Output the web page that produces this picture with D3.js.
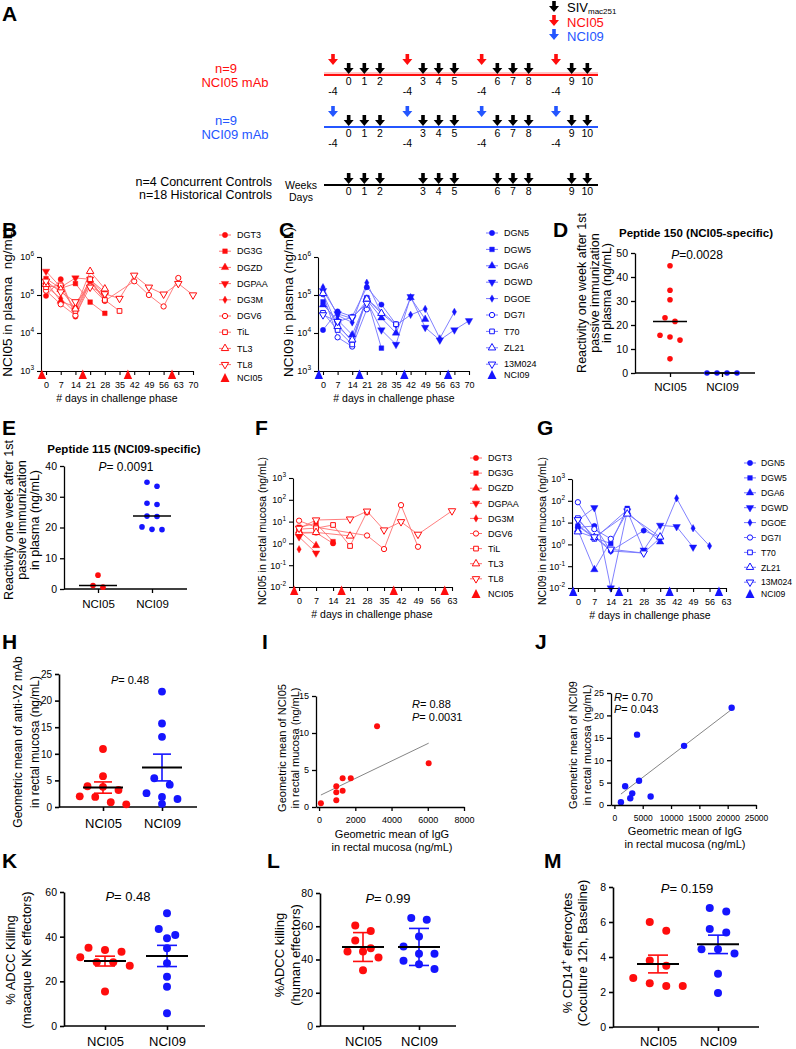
<!DOCTYPE html>
<html><head><meta charset="utf-8">
<script src="https://cdn.jsdelivr.net/npm/d3@7/dist/d3.min.js"></script>
<style>
html,body{margin:0;padding:0;background:#fff;}
svg{display:block;}
text{font-family:"Liberation Sans",Arial,Helvetica,sans-serif;}
</style></head><body>
<svg id="fig" width="796" height="1049" xmlns="http://www.w3.org/2000/svg"></svg>
<script>
// ======================= DATA =======================
// Panel A schedule
const weekNumbers = [0,1,2,3,4,5,6,7,8,9,10];
const doseGroups = [0,1,2,3];
const doseDayLabel = "-4";

// Panels B, C, F, G
const challengeDays70 = [0,7,14,21,28,35,42,49,56,63,70];
const challengeDays63 = [0,7,14,21,28,35,42,49,56,63];
const mAbInfusionDays = [-2,17.5,39,60];
const animalsNCI05 = ["DGT3","DG3G","DGZD","DGPAA","DG3M","DGV6","TiL","TL3","TL8"];
const animalsNCI09 = ["DGN5","DGW5","DGA6","DGWD","DGOE","DG7I","T70","ZL21","13M024"];
const symbolTypes = ["circle","square","triangle","triangleDown","diamond","circleOpen","squareOpen","triangleOpen","triangleDownOpen"];
const logTicksPlasma = [1e3,1e4,1e5,1e6];
const logTicksMucosa = [1e-2,1e-1,1,10,100,1000];

const plasmaNCI05 = [
  [9.5e4,2.6e5,2.7e4,2.3e5,7.2e4,null,null,null,null,null,null],
  [2.7e5,1.5e5,2.0e5,6.5e4,3.3e4,null,null,null,null,null,null],
  [2.2e5,6.9e4,4.8e4,2.5e5,1.2e5,null,null,null,null,null,null],
  [4.2e5,1.6e5,2.8e5,2.6e5,1.0e5,null,null,null,null,null,null],
  [1.7e5,8.1e4,3.4e4,2.4e5,7.5e4,null,null,null,null,null,null],
  [1.3e5,5.7e4,2.9e4,1.7e5,7.0e4,null,2.3e5,1.0e5,5.0e4,2.8e5,null],
  [1.6e5,1.8e5,3.8e4,2.6e5,7.4e4,3.8e4,null,null,null,null,null],
  [1.9e5,1.4e5,4.3e4,4.2e5,1.45e5,null,null,null,null,null,null],
  [2.3e5,1.2e5,6.6e4,1.6e5,1.07e5,8.1e4,3.3e5,1.6e5,1.05e5,2.0e5,1.0e5]
];
const plasmaNCI09 = [
  [1.2e4,3.7e4,2.7e4,1.6e5,5.6e4,1.7e4,null,null,null,null,null],
  [6.6e4,1.7e4,5.9e3,8.5e4,4.0e3,null,null,null,null,null,null],
  [5.5e4,2.2e4,9.0e3,7.5e4,2.5e4,1.0e4,8.5e4,2.3e4,null,null,null],
  [1.3e5,3.2e4,2.4e4,7.0e4,1.2e4,5.0e3,9.0e4,1.4e4,6.5e3,1.2e4,2.1e4],
  [1.6e5,2.9e4,1.9e4,2.1e5,3.3e4,1.6e4,3.0e4,4.3e4,7.2e3,3.6e4,null],
  [1.05e5,7.7e3,4.4e3,4.2e4,null,null,null,null,null,null,null],
  [3.4e4,1.2e4,5.0e3,8.0e4,null,1.7e4,null,null,null,null,null],
  [1.1e5,1.5e4,6.6e3,7.8e4,3.3e4,null,null,null,null,null,null],
  [3.0e4,2.0e4,2.6e4,6.0e4,null,null,null,null,null,null,null]
];
const mucosaNCI05 = [
  [2.9,3.1,1.0,null,null,null,null,null,null,null],
  [5.5,8.3,1.2,null,null,null,null,null,null,null],
  [3.8,0.8,null,null,null,null,null,null,null,null],
  [2.0,0.36,null,null,null,null,null,null,null,null],
  [0.54,null,null,null,null,null,null,null,null,null],
  [11,5.5,null,null,2.3,0.55,57,0.7,null,null],
  [4.5,5.0,7.0,0.76,28,null,null,null,null,null],
  [3.2,3.2,null,2.2,null,null,null,null,null,null],
  [4.9,11.8,null,13,30,4.1,9.8,2.6,null,31]
];
const mucosaNCI09 = [
  [6.0,7.0,0.5,null,4.3,2.1,null,null,null,null],
  [6.9,2.0,1.1,45,null,null,null,null,null,null],
  [4.6,0.07,null,30,null,1.3,null,null,null,null],
  [13,48,0.01,34,0.55,7.5,6.5,0.75,null,null],
  [7.5,2.2,0.5,null,0.4,2.0,130,5.5,0.85,null],
  [86,5.0,1.8,null,null,null,null,null,null,null],
  [16,1.8,null,38,null,null,null,null,null,null],
  [3.8,2.1,null,25,null,2.2,null,null,null,null],
  [13.5,2.2,0.6,null,0.4,null,null,null,null,null]
];

// Dot plots
const groupNames = ["NCI05","NCI09"];
const pep150NCI05 = [44.7,34.5,30.5,23,21.5,15.7,15,13.7,5.9];
const pep150NCI09 = [0,0,0,0];
const pep115NCI05 = [4.5,1.1,0.6];
const pep115NCI09 = [34.7,33.4,27.9,27.5,23.7,23.6,20.2,19.4,19.3];
const mucosaGMNCI05 = [10.9,5.8,3.9,3.8,3.2,2.0,1.9,0.9,0.5];
const mucosaGMNCI09 = [21.7,15.7,13.2,5.4,4.2,2.6,1.9,1.5,0.6];
const igGNCI05 = [3200,6050,1300,1750,950,1300,950,950,100];
const gmNCI05 = [10.9,5.9,3.9,3.9,2.8,2.2,2.0,0.9,0.5];
const igGNCI09 = [20700,4000,12300,4350,1900,3150,6400,2800,1150];
const gmNCI09 = [21.7,15.7,13.2,5.4,4.2,2.6,1.9,1.5,0.6];
const adccNKNCI05 = [35,34,33.3,30.8,28.5,28.5,27,15.4];
const adccNKNCI09 = [50.5,43.4,40.8,39.3,34.8,28.1,22.1,17.6,5.7];
const adccHuNCI05 = [60.4,57.2,51.4,46.8,44.8,44.8,41.2,33.5];
const adccHuNCI09 = [64.9,63.9,53.8,47.8,43.4,43.4,39.3,37.2,34.3];
const cd14NCI05 = [6.0,5.5,3.8,3.5,2.8,2.5,2.35,2.35];
const cd14NCI09 = [6.8,6.6,5.6,5.4,4.45,4.45,4.2,3.05,1.95];

// ======================= DRAWING =======================
const svg = d3.select("#fig");
const RED = "#ff0d0d", BLUE = "#1515ff", ABLUE = "#2456ff";
const RED_L = "#ff6f6f", BLUE_L = "#7373ff";

function addText(g, x, y, s, o = {}) {
  const t = g.append("text").attr("x", x).attr("y", y)
    .attr("font-size", o.fs || 12).attr("text-anchor", o.anchor || "start")
    .attr("fill", o.fill || "#000");
  if (o.bold) t.attr("font-weight", "bold");
  if (o.italic) t.attr("font-style", "italic");
  if (s != null) t.text(s);
  return t;
}
function rotText(g, x, cy, s, fs, pre) {
  const t = g.append("text").attr("transform", `translate(${x},${cy}) rotate(-90)`)
    .attr("text-anchor", "middle").attr("font-size", fs);
  if (Array.isArray(s)) {
    let shift = 0;
    s.forEach(seg => {
      const ts = t.append("tspan").text(seg[0]);
      if (seg[1]) { ts.attr("dy", -fs * 0.4).attr("font-size", fs * 0.7); shift = fs * 0.4; }
      else if (shift) { ts.attr("dy", shift); shift = 0; }
    });
  } else t.text(s);
  if (pre) t.style("white-space", "pre");
  return t;
}
function pText(g, x, y, rest, fs) {
  const t = addText(g, x, y, null, {fs, anchor: "middle"});
  t.append("tspan").attr("font-style", "italic").text("P");
  t.append("tspan").text(rest);
}
function styleAxis(ax, fs, sw) {
  ax.attr("font-family", null).attr("font-size", null);
  ax.selectAll("text").attr("font-size", fs).attr("fill", "#000");
  ax.selectAll("path,line").attr("stroke", "#000").attr("stroke-width", sw);
}
function panelLabel(s, x, y) { addText(svg, x, y, s, {fs: 21, bold: true}); }

// ---------- Panel A ----------
(function () {
  const g = svg.append("g");
  panelLabel("A", 2, 21);
  const groupStartX = d3.scaleLinear().domain([0, 3]).range([333, 556]);
  const slotOffset = d3.scaleLinear().domain([0, 3]).range([0, 47]);
  const weekX = w => groupStartX(Math.floor(w / 3)) + slotOffset(w % 3 + 1);
  const doseX = gi => groupStartX(gi) + slotOffset(0);
  function arrow(x, tip, color) {
    const hw = 5, sw = 1.8, top = tip - 11, neck = tip - 6;
    g.append("path").attr("d", `M${x-sw},${top}L${x+sw},${top}L${x+sw},${neck}L${x+hw},${neck}L${x},${tip}L${x-hw},${neck}L${x-sw},${neck}Z`)
      .attr("fill", color);
  }
  // legend
  arrow(554, 12, "#000"); arrow(554, 26, RED); arrow(554, 40, ABLUE);
  const sl = addText(g, 567, 12, null, {fs: 13});
  sl.append("tspan").text("SIV");
  sl.append("tspan").attr("dy", 2).attr("font-size", 8).text("mac251");
  addText(g, 567, 26.5, "NCI05", {fs: 13, fill: RED});
  addText(g, 567, 40.5, "NCI09", {fs: 13, fill: ABLUE});

  const rows = [
    {lineY: 75, color: RED, dose: RED, n: "n=9", name: "NCI05 mAb"},
    {lineY: 127, color: ABLUE, dose: ABLUE, n: "n=9", name: "NCI09 mAb"},
    {lineY: 185, color: "#000", dose: null}
  ];
  rows.forEach(r => {
    if (r.dose === RED) g.append("line").attr("x1", 324).attr("x2", 598).attr("y1", r.lineY - 2).attr("y2", r.lineY - 2).attr("stroke", "#ffb3b3").attr("stroke-width", 1.6);
    g.append("line").attr("x1", 324).attr("x2", 598).attr("y1", r.lineY).attr("y2", r.lineY).attr("stroke", r.color).attr("stroke-width", 2);
    weekNumbers.forEach(w => {
      arrow(weekX(w), r.lineY - 1, "#000");
      addText(g, weekX(w), r.lineY + 10, String(w), {fs: 10.5, anchor: "middle"});
    });
    if (r.dose) {
      doseGroups.forEach(gi => {
        arrow(doseX(gi), r.lineY - 10, r.dose);
        addText(g, doseX(gi), r.lineY + 20, doseDayLabel, {fs: 10.5, anchor: "middle"});
      });
      addText(g, 226, r.lineY - 2, r.n, {fs: 13, anchor: "middle", fill: r.color});
      addText(g, 235, r.lineY + 12, r.name, {fs: 13, anchor: "middle", fill: r.color});
    }
  });
  addText(g, 272, 185.5, "n=4 Concurrent Controls", {fs: 12.5, anchor: "end"});
  addText(g, 272, 199, "n=18 Historical Controls", {fs: 12.5, anchor: "end"});
  addText(g, 301, 189, "Weeks", {fs: 10.5, anchor: "middle"});
  addText(g, 301, 201, "Days", {fs: 10.5, anchor: "middle"});
})();

// ---------- Line panels ----------
function drawSymbol(g, kind, x, y, color) {
  const open = kind.endsWith("Open");
  const base = kind.replace("Open", "");
  const types = {circle: d3.symbolCircle, square: d3.symbolSquare, triangle: d3.symbolTriangle, triangleDown: d3.symbolTriangle, diamond: d3.symbolDiamond};
  const size = base === "diamond" ? 16 : (base.startsWith("triangle") ? 24 : 22);
  g.append("path").attr("d", d3.symbol().type(types[base]).size(size)())
    .attr("transform", `translate(${x},${y}) rotate(${base === "triangleDown" ? 180 : 0})`)
    .attr("fill", open ? "#fff" : color).attr("stroke", color).attr("stroke-width", open ? 1 : 0.4);
}
function linePanel(c) {
  const g = svg.append("g");
  const x = d3.scaleLinear().domain(c.xDom).range(c.xRange);
  const y = d3.scaleLog().domain(c.yDom).range(c.yRange);
  const axisY = c.yRange[0], axisX = c.xRange[0];
  const seriesPts = c.series.map(vals => c.days.map((d, j) => [d, vals[j]]).filter(p => p[1] != null));
  seriesPts.forEach(pts => {
    g.append("path").attr("d", d3.line().x(p => x(p[0])).y(p => y(p[1]))(pts))
      .attr("fill", "none").attr("stroke", c.lineColor).attr("stroke-width", 0.9);
  });
  seriesPts.forEach((pts, i) => pts.forEach(p => drawSymbol(g, c.symbols[i], x(p[0]), y(p[1]), c.color)));
  const xa = g.append("g").attr("transform", `translate(0,${axisY})`)
    .call(d3.axisBottom(x).tickValues(c.days).tickSize(4).tickSizeOuter(0));
  styleAxis(xa, 9, 1.1);
  xa.selectAll(".tick text").attr("dy", null).attr("y", 17);
  const ya = g.append("g").attr("transform", `translate(${axisX},0)`)
    .call(d3.axisLeft(y).tickValues(c.decades).tickSize(4).tickSizeOuter(0));
  styleAxis(ya, 9, 1.1);
  ya.selectAll(".tick text").each(function (d) {
    const t = d3.select(this); t.text(null);
    t.append("tspan").text("10");
    t.append("tspan").attr("dy", -4).attr("font-size", 6.5).text(String(Math.round(Math.log10(d))));
  });
  c.doseDays.forEach(d => {
    const px = x(d);
    g.append("path").attr("d", `M${px},${axisY - 1.5}L${px + 4.2},${axisY + 8}L${px - 4.2},${axisY + 8}Z`).attr("fill", c.color);
  });
  addText(g, c.xTitleX, axisY + 31, "# days in challenge phase", {fs: 10.5, anchor: "middle"});
  rotText(g, c.yTitleX, c.yTitleCy, c.yTitle, c.yTitleFs, true);
  c.names.forEach((nm, i) => {
    const ly = c.leg.y0 + i * c.leg.dy;
    g.append("line").attr("x1", c.leg.x - 6).attr("x2", c.leg.x + 6).attr("y1", ly).attr("y2", ly).attr("stroke", c.lineColor).attr("stroke-width", 1);
    drawSymbol(g, c.symbols[i], c.leg.x, ly, c.color);
    addText(g, c.leg.x + c.leg.tx, ly + 3.2, nm, {fs: c.leg.fs});
  });
  const ty = c.leg.mabY, lx = c.leg.x;
  g.append("path").attr("d", `M${lx},${ty - 5}L${lx + 4.5},${ty + 4}L${lx - 4.5},${ty + 4}Z`).attr("fill", c.color);
  addText(g, lx + c.leg.tx, ty + 3.2, c.mabName, {fs: c.leg.fs});
}

panelLabel("B", 2, 237);
linePanel({xDom: [-2.4, 70], xRange: [41, 193], yDom: [1e3, 1e6], yRange: [371, 257], days: challengeDays70,
  decades: logTicksPlasma, series: plasmaNCI05, symbols: symbolTypes, names: animalsNCI05, color: RED, lineColor: RED_L,
  doseDays: mAbInfusionDays, xTitleX: 117, yTitle: "NCI05 in plasma  ng/mL)", yTitleX: 12, yTitleCy: 302, yTitleFs: 13.5,
  leg: {x: 225, y0: 235, dy: 16.2, mabY: 378, tx: 12, fs: 9}, mabName: "NCI05"});

panelLabel("C", 279, 237);
linePanel({xDom: [-2.4, 70], xRange: [318, 469], yDom: [1e3, 1e6], yRange: [371, 257], days: challengeDays70,
  decades: logTicksPlasma, series: plasmaNCI09, symbols: symbolTypes, names: animalsNCI09, color: BLUE, lineColor: BLUE_L,
  doseDays: mAbInfusionDays, xTitleX: 394, yTitle: "NCI09 in plasma (ng/mL)", yTitleX: 293, yTitleCy: 302, yTitleFs: 13.5,
  leg: {x: 492, y0: 233, dy: 16.4, mabY: 375, tx: 12, fs: 9}, mabName: "NCI09"});

panelLabel("F", 255, 435);
linePanel({xDom: [-2.5, 63], xRange: [293, 452], yDom: [1e-2, 1e3], yRange: [587, 478], days: challengeDays63,
  decades: logTicksMucosa, series: mucosaNCI05, symbols: symbolTypes, names: animalsNCI05, color: RED, lineColor: RED_L,
  doseDays: mAbInfusionDays, xTitleX: 372, yTitle: "NCI05 in rectal mucosa (ng/mL)", yTitleX: 266, yTitleCy: 531, yTitleFs: 10.5,
  leg: {x: 476, y0: 458, dy: 15.1, mabY: 594, tx: 12, fs: 9}, mabName: "NCI05"});

panelLabel("G", 537, 435);
linePanel({xDom: [-2.5, 63], xRange: [572, 726], yDom: [1e-2, 1e3], yRange: [588, 479], days: challengeDays63,
  decades: logTicksMucosa, series: mucosaNCI09, symbols: symbolTypes, names: animalsNCI09, color: BLUE, lineColor: BLUE_L,
  doseDays: mAbInfusionDays, xTitleX: 650, yTitle: "NCI09 in rectal mucosa (ng/mL)", yTitleX: 546, yTitleCy: 531, yTitleFs: 10.5,
  leg: {x: 750, y0: 463, dy: 14.9, mabY: 594, tx: 11, fs: 8.6}, mabName: "NCI09"});

// ---------- Dot panels ----------
function swarm(vals, y, spacing) {
  const pts = vals.map(v => ({v, y: y(v), dx: 0})).sort((a, b) => a.y - b.y);
  const rows = [];
  pts.forEach(p => {
    const r = rows[rows.length - 1];
    if (r && p.y - r[0].y < spacing * 0.55) r.push(p); else rows.push([p]);
  });
  rows.forEach(r => r.forEach((p, i) => { p.dx = (i - (r.length - 1) / 2) * spacing; }));
  return pts;
}
function dotPanel(c) {
  const g = svg.append("g");
  const y = d3.scaleLinear().domain(c.yDom).range(c.yRange);
  const xc = d3.scalePoint().domain(groupNames).range(c.cats);
  const y0 = y(0);
  const ya = g.append("g").attr("transform", `translate(${c.x0},0)`)
    .call(d3.axisLeft(y).tickValues(c.ticks).tickSize(4).tickSizeOuter(0));
  styleAxis(ya, c.tickFs, c.sw);
  g.append("line").attr("x1", c.x0).attr("x2", c.x1).attr("y1", y0).attr("y2", y0).attr("stroke", "#000").attr("stroke-width", c.sw);
  const xa = g.append("g").attr("transform", `translate(0,${y0})`).call(d3.axisBottom(xc).tickSize(4).tickSizeOuter(0));
  xa.select(".domain").remove();
  styleAxis(xa, c.catFs, c.sw);
  xa.selectAll(".tick text").attr("dy", null).attr("y", c.catY - y0);
  c.groups.forEach((vals, gi) => {
    const color = gi ? BLUE : RED, cx = xc(groupNames[gi]);
    swarm(vals, y, c.spacing).forEach(p => g.append("circle").attr("cx", cx + p.dx).attr("cy", p.y).attr("r", c.r).attr("fill", color));
    const center = c.center === "median" ? d3.median(vals) : d3.mean(vals);
    if (c.err) {
      const sd = d3.deviation(vals), e = c.err === "sem" ? sd / Math.sqrt(vals.length) : sd;
      const ew = c.sw;
      g.append("line").attr("x1", cx).attr("x2", cx).attr("y1", y(center - e)).attr("y2", y(center + e)).attr("stroke", color).attr("stroke-width", ew);
      [center - e, center + e].forEach(v => g.append("line").attr("x1", cx - c.capHalf).attr("x2", cx + c.capHalf).attr("y1", y(v)).attr("y2", y(v)).attr("stroke", color).attr("stroke-width", ew));
    }
    g.append("line").attr("x1", cx - c.lineHalf).attr("x2", cx + c.lineHalf).attr("y1", y(center)).attr("y2", y(center))
      .attr("stroke", "#000").attr("stroke-width", c.center === "median" ? 1.5 : 2);
  });
  pText(g, c.p.x, c.p.y, c.p.text, c.p.fs);
  c.yTitle.lines.forEach((ln, i) => rotText(g, c.yTitle.xs[i], c.yTitle.cy, ln, c.yTitle.fs));
  if (c.title) addText(g, c.title.x, c.title.y, c.title.text, {fs: 11.5, bold: true, anchor: "middle"});
}

panelLabel("D", 553, 237);
dotPanel({x0: 635, x1: 755, cats: [670, 722], yDom: [0, 50], yRange: [373, 253], ticks: [0,10,20,30,40,50],
  tickFs: 10.5, catFs: 11.5, catY: 391, sw: 1.3, groups: [pep150NCI05, pep150NCI09], center: "median", err: null,
  r: 2.8, spacing: 10, lineHalf: 17, p: {x: 697, y: 259, text: "=0.0028", fs: 12},
  yTitle: {lines: ["Reactivity one week after 1st", "passive immunization", "in plasma (ng/mL)"], xs: [586, 599, 611], cy: 293, fs: 12.5},
  title: {x: 696, y: 237, text: "Peptide 150 (NCI05-specific)"}});

panelLabel("E", 2, 435);
dotPanel({x0: 64, x1: 187, cats: [98, 152], yDom: [0, 40], yRange: [589, 466], ticks: [0,10,20,30,40],
  tickFs: 10.5, catFs: 11.5, catY: 608, sw: 1.3, groups: [pep115NCI05, pep115NCI09], center: "median", err: null,
  r: 2.8, spacing: 10, lineHalf: 19, p: {x: 126, y: 471, text: "= 0.0091", fs: 12},
  yTitle: {lines: ["Reactivity one week after 1st", "passive immunization", "in plasma (ng/mL)"], xs: [13, 26, 39], cy: 520, fs: 12.5},
  title: {x: 124, y: 453, text: "Peptide 115 (NCI09-specific)"}});

panelLabel("H", 2, 649);
dotPanel({x0: 59, x1: 197, cats: [103, 162], yDom: [0, 25], yRange: [807, 674], ticks: [0,5,10,15,20,25],
  tickFs: 10, catFs: 13, catY: 828, sw: 1.6, groups: [mucosaGMNCI05, mucosaGMNCI09], center: "mean", err: "sem",
  r: 3.9, spacing: 15.5, lineHalf: 20, capHalf: 9, p: {x: 130, y: 684, text: "= 0.48", fs: 11},
  yTitle: {lines: ["Geometric mean of anti-V2 mAb", "in rectal mucosa (ng/mL)"], xs: [22, 39], cy: 742, fs: 12}});

panelLabel("K", 2, 868);
dotPanel({x0: 64, x1: 205, cats: [105, 167], yDom: [0, 60], yRange: [1026, 892], ticks: [0,20,40,60],
  tickFs: 10.5, catFs: 13, catY: 1046, sw: 1.6, groups: [adccNKNCI05, adccNKNCI09], center: "mean", err: "sem",
  r: 4, spacing: 16.5, lineHalf: 21, capHalf: 10, p: {x: 128, y: 901, text: "= 0.48", fs: 13},
  yTitle: {lines: ["% ADCC Killing", "(macaque NK effectors)"], xs: [15, 31], cy: 960, fs: 13}});

panelLabel("L", 267, 868);
dotPanel({x0: 320, x1: 456, cats: [363, 419], yDom: [0, 80], yRange: [1026, 893], ticks: [0,20,40,60,80],
  tickFs: 10.5, catFs: 13, catY: 1046, sw: 1.6, groups: [adccHuNCI05, adccHuNCI09], center: "mean", err: "sd",
  r: 4, spacing: 15.5, lineHalf: 21, capHalf: 10, p: {x: 388, y: 903, text: "= 0.99", fs: 13},
  yTitle: {lines: ["%ADCC killing", "(human effectors)"], xs: [284, 300], cy: 955, fs: 13}});

panelLabel("M", 544, 868);
dotPanel({x0: 613, x1: 759, cats: [658, 718], yDom: [0, 8], yRange: [1027, 887], ticks: [0,2,4,6,8],
  tickFs: 10.5, catFs: 13, catY: 1046, sw: 1.6, groups: [cd14NCI05, cd14NCI09], center: "mean", err: "sem",
  r: 4, spacing: 16.5, lineHalf: 21, capHalf: 10, p: {x: 687, y: 893, text: "= 0.159", fs: 13},
  yTitle: {lines: [[["% CD14", false], ["+", true], [" efferocytes", false]], "(Coculture 12h, Baseline)"], xs: [572, 587], cy: 953, fs: 13}});

// ---------- Scatter panels ----------
function scatterPanel(c) {
  const g = svg.append("g");
  const x = d3.scaleLinear().domain(c.xDom).range(c.xRange);
  const y = d3.scaleLinear().domain(c.yDom).range(c.yRange);
  const mx = d3.mean(c.xs), my = d3.mean(c.ys);
  let sxy = 0, sxx = 0;
  c.xs.forEach((v, i) => { sxy += (v - mx) * (c.ys[i] - my); sxx += (v - mx) ** 2; });
  const b = sxy / sxx, a = my - b * mx;
  const [xmin, xmax] = d3.extent(c.xs);
  g.append("line").attr("x1", x(xmin)).attr("y1", y(a + b * xmin)).attr("x2", x(xmax)).attr("y2", y(a + b * xmax))
    .attr("stroke", "#777").attr("stroke-width", 0.9);
  c.xs.forEach((v, i) => g.append("circle").attr("cx", x(v)).attr("cy", y(c.ys[i])).attr("r", c.r).attr("fill", c.color));
  const xa = g.append("g").attr("transform", `translate(0,${c.yRange[0]})`)
    .call(d3.axisBottom(x).tickValues(c.xTicks).tickFormat(d3.format("d")).tickSize(4).tickSizeOuter(0));
  styleAxis(xa, c.xTickFs, 1.3);
  xa.selectAll(".tick text").attr("dy", null).attr("y", c.xTickY - c.yRange[0]);
  const ya = g.append("g").attr("transform", `translate(${c.xRange[0]},0)`)
    .call(d3.axisLeft(y).tickValues(c.yTicks).tickSize(4).tickSizeOuter(0));
  styleAxis(ya, 9, 1.3);
  c.xTitle.lines.forEach((ln, i) => addText(g, c.xTitle.x, c.xTitle.ys[i], ln, {fs: 11, anchor: "middle"}));
  c.yTitle.lines.forEach((ln, i) => rotText(g, c.yTitle.xs[i], c.yTitle.cy, ln, 11));
  const r1 = addText(g, c.stat.x, c.stat.y1, null, {fs: 11});
  r1.append("tspan").attr("font-style", "italic").text("R"); r1.append("tspan").text(c.stat.r);
  const p1 = addText(g, c.stat.x, c.stat.y2, null, {fs: 11});
  p1.append("tspan").attr("font-style", "italic").text("P"); p1.append("tspan").text(c.stat.p);
}

panelLabel("I", 262, 649);
scatterPanel({xDom: [-170, 8000], xRange: [316, 464], yDom: [0, 15], yRange: [807, 696], xs: igGNCI05, ys: gmNCI05,
  color: RED, r: 3, xTicks: [0,2000,4000,6000,8000], yTicks: [0,5,10,15], xTickFs: 9, xTickY: 823,
  xTitle: {x: 392, ys: [838, 851], lines: ["Geometric mean of IgG", "in rectal mucosa (ng/mL)"]},
  yTitle: {xs: [286, 299], cy: 748, lines: ["Geometric mean of NCI05", "in rectal mucosa (ng/mL)"]},
  stat: {x: 412, y1: 708, y2: 721, r: "= 0.88", p: "= 0.0031"}});

panelLabel("J", 535, 649);
scatterPanel({xDom: [-600, 25000], xRange: [611, 756], yDom: [0, 25], yRange: [805, 693], xs: igGNCI09, ys: gmNCI09,
  color: BLUE, r: 3.2, xTicks: [0,5000,10000,15000,20000,25000], yTicks: [0,5,10,15,20,25], xTickFs: 8.5, xTickY: 821,
  xTitle: {x: 685, ys: [835, 848], lines: ["Geometric mean of IgG", "in rectal mucosa (ng/mL)"]},
  yTitle: {xs: [577, 591], cy: 745, lines: ["Geometric mean of NCI09", "in rectal mucosa (ng/mL)"]},
  stat: {x: 614, y1: 701, y2: 713, r: "= 0.70", p: "= 0.043"}});
</script></body></html>
